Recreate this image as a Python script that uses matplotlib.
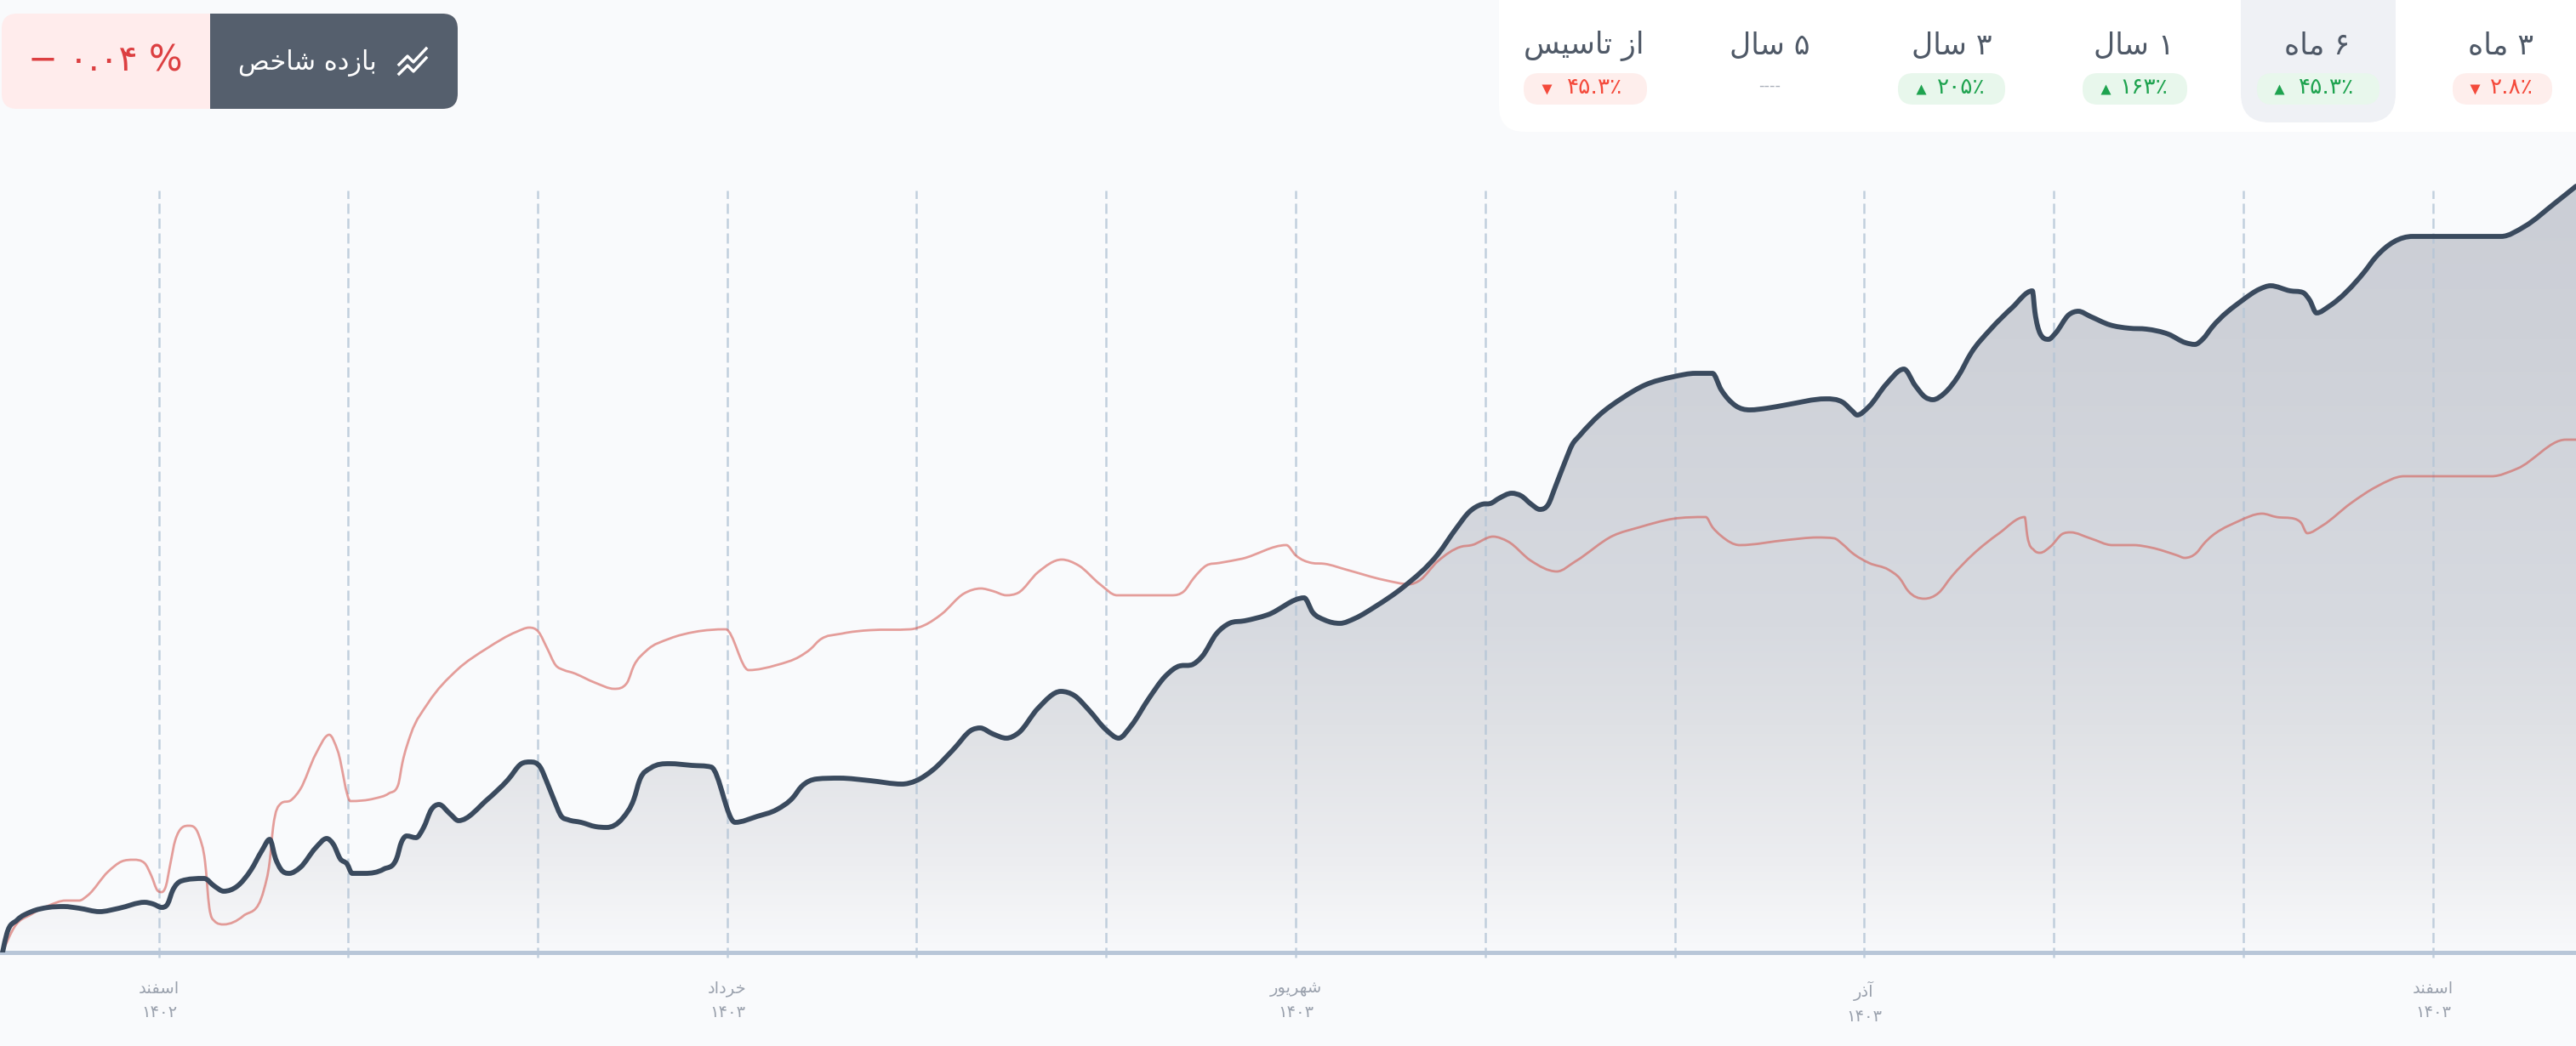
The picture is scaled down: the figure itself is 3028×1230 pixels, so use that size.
import numpy as np
import matplotlib
matplotlib.use('Agg')
import matplotlib.pyplot as plt
from matplotlib.patches import FancyBboxPatch, PathPatch, Rectangle
from matplotlib.path import Path

plt.rcParams['font.family'] = ['DejaVu Sans']

# chart data, x runs along the time axis, values are heights above the baseline
fund_x = [3, 8, 20, 37, 57, 75, 93, 117, 140, 170, 180, 190, 197, 203, 213, 240, 252, 263, 279, 295, 308, 317, 324, 330, 340, 353, 371, 384, 392, 400, 408, 414, 429, 451, 466, 472, 478, 489, 498, 507, 516, 529, 539, 573, 597, 613, 623, 635, 643, 651, 660, 668, 683, 700,
          713, 732, 745, 752, 765, 787, 813, 836, 864, 890, 913, 932, 942, 960, 987, 1023, 1060, 1077, 1097, 1120, 1143, 1152, 1167, 1183, 1197, 1220, 1247, 1263, 1280, 1300, 1315, 1330, 1350, 1370, 1387, 1400, 1413, 1430, 1445, 1463, 1490, 1533, 1543, 1557, 1575, 1593, 1617, 1650,
          1690, 1712, 1727, 1742, 1752, 1762, 1777, 1788, 1800, 1810, 1820, 1828, 1840, 1848, 1857, 1880, 1907, 1933, 1967, 1993, 2013, 2023, 2040, 2057, 2077, 2100, 2146, 2166, 2177, 2183, 2197, 2217, 2238, 2251, 2263, 2272, 2286, 2302, 2317, 2340, 2365, 2389, 2392, 2398, 2408, 2416, 2432, 2443, 2457, 2480, 2503, 2523, 2549, 2569, 2580, 2590, 2600, 2636, 2656, 2669, 2692, 2707, 2715, 2723, 2738, 2779, 2792, 2836, 2940, 2968, 3003, 3028]
fund_y = [0, 22, 38, 48, 53, 54, 52, 48, 52, 59, 57, 53, 57, 73, 84, 87, 78, 72, 78, 97, 120, 133, 110, 98, 93, 100, 123, 134, 127, 110, 104, 93, 93, 98, 110, 130, 137, 135, 147, 168, 174, 163, 155, 180, 203, 222, 224, 218, 200, 180, 160, 156, 153, 148,
          147, 158, 180, 203, 217, 222, 220, 218, 153, 160, 168, 182, 195, 204, 205, 202, 198, 202, 215, 238, 262, 264, 257, 252, 258, 287, 307, 302, 285, 262, 252, 267, 298, 325, 337, 338, 348, 375, 387, 390, 397, 417, 400, 391, 387, 393, 407, 430,
          468, 499, 518, 527, 528, 534, 540, 537, 527, 521, 527, 547, 578, 597, 608, 632, 652, 667, 677, 681, 681, 662, 643, 638, 640, 644, 651, 647, 637, 632, 642, 668, 686, 667, 653, 650, 658, 678, 705, 733, 758, 778, 753, 728, 721, 728, 750, 754, 748, 738, 734, 733, 727, 717, 715, 722, 735, 767, 780, 784, 778, 776, 767, 752, 760, 800, 817, 842, 842, 854, 881, 901]

index_x = [3, 17, 37, 57, 77, 93, 103, 127, 143, 157, 170, 178, 185, 190, 195, 200, 206, 222, 234, 241, 246, 252, 263, 286, 310, 317, 321, 330, 342, 353, 371, 387, 397, 412, 440, 457, 468, 473, 483, 503, 537, 573, 607, 622, 633, 643, 653, 663, 673, 700, 722, 737, 745, 760, 787, 817, 853,
           880, 913, 940, 953, 963, 990, 1023, 1070, 1087, 1107, 1133, 1153, 1167, 1183, 1197, 1220, 1248, 1268, 1293, 1313, 1377, 1392, 1403, 1418, 1433, 1460, 1512, 1523, 1542, 1557, 1583, 1627, 1657, 1668, 1690, 1717, 1730, 1755, 1773, 1799, 1830, 1852, 1896, 1927, 1967, 2005, 2013, 2023, 2045,
           2100, 2136, 2156, 2166, 2177, 2197, 2220, 2233, 2243, 2262, 2279, 2294, 2319, 2350, 2380, 2383, 2391, 2398, 2411, 2424, 2434, 2457, 2483, 2508, 2529, 2559, 2568, 2582, 2590, 2631, 2659, 2676, 2697, 2705, 2712, 2730, 2763, 2794, 2826, 2929, 2959, 3016, 3028]
index_y = [0, 30, 45, 55, 61, 61, 67, 95, 107, 109, 105, 90, 73, 71, 78, 103, 132, 149, 137, 107, 53, 37, 33, 43, 73, 107, 147, 175, 179, 192, 233, 256, 237, 178, 181, 187, 197, 223, 257, 293, 332, 358, 377, 382, 377, 358, 338, 332, 329, 317, 310, 317, 337, 355, 369, 377, 380,
           332, 338, 348, 357, 367, 375, 379, 380, 385, 398, 422, 428, 425, 420, 423, 447, 462, 455, 433, 420, 420, 425, 440, 455, 458, 463, 479, 467, 458, 457, 450, 438, 433, 437, 460, 477, 479, 489, 483, 461, 448, 460, 490, 500, 510, 512, 500, 490, 479,
           485, 488, 487, 480, 470, 458, 450, 440, 425, 416, 423, 442, 468, 493, 512, 490, 473, 470, 478, 492, 494, 487, 479, 479, 476, 467, 464, 470, 480, 507, 516, 512, 510, 505, 493, 502, 528, 548, 560, 560, 569, 603, 603]

month_x = [187, 409, 632, 855, 1077, 1300, 1523, 1746, 1969, 2191, 2414, 2637, 2860]
month_labels = ['اسفند', '', '', 'خرداد', '', '', 'شهریور', '', '', 'آذر', '', '', 'اسفند']
year_labels = ['۱۴۰۲', '', '', '۱۴۰۳', '', '', '۱۴۰۳', '', '', '۱۴۰۳', '', '', '۱۴۰۳']

periods = ['۳ ماه', '۶ ماه', '۱ سال', '۳ سال', '۵ سال', 'از تاسیس']
returns = ['۲.۸٪', '۴۵.۳٪', '۱۶۳٪', '۲۰۵٪', '----', '۴۵.۳٪']
directions = [-1, 1, 1, 1, 0, -1]

BG = '#f9fafc'
DARK = '#3a4a5e'
RED = '#dc3f41'

# matplotlib has no arabic shaping, so pick the joined glyph forms by hand
FORMS = {'ا': 'ﺍﺎ', 'آ': 'ﺁﺂ', 'د': 'ﺩﺪ', 'ذ': 'ﺫﺬ', 'ر': 'ﺭﺮ', 'ز': 'ﺯﺰ', 'و': 'ﻭﻮ',
         'ب': 'ﺏﺐﺑﺒ', 'ت': 'ﺕﺖﺗﺘ', 'خ': 'ﺥﺦﺧﺨ', 'س': 'ﺱﺲﺳﺴ', 'ش': 'ﺵﺶﺷﺸ', 'ص': 'ﺹﺺﺻﺼ',
         'ف': 'ﻑﻒﻓﻔ', 'ل': 'ﻝﻞﻟﻠ', 'م': 'ﻡﻢﻣﻤ', 'ن': 'ﻥﻦﻧﻨ', 'ه': 'ﻩﻪﻫﻬ', 'ی': 'ﯼﯽﯾﯿ'}


def fa(text):
    out = []
    for i, c in enumerate(text):
        if c not in FORMS:
            out.append(c)
            continue
        prev = text[i - 1] if i > 0 else ' '
        nxt = text[i + 1] if i + 1 < len(text) else ' '
        joins_prev = prev in FORMS and len(FORMS[prev]) == 4
        joins_next = nxt in FORMS and len(FORMS[c]) == 4
        idx = {(False, False): 0, (True, False): 1, (False, True): 2, (True, True): 3}[(joins_prev, joins_next)]
        out.append(FORMS[c][idx])
    return ''.join(reversed(out))


def smooth_path(x, y):
    # monotone cubic segments through the read points
    x = np.array(x, float)
    y = np.array(y, float)
    h = np.diff(x)
    s = np.diff(y) / h
    m = np.zeros(len(x))
    for i in range(1, len(x) - 1):
        p = (s[i - 1] * h[i] + s[i] * h[i - 1]) / (h[i - 1] + h[i])
        if s[i - 1] * s[i] > 0:
            m[i] = np.sign(p) * min(3 * abs(s[i - 1]), 3 * abs(s[i]), abs(p))
    m[0] = (3 * s[0] - m[1]) / 2
    m[-1] = (3 * s[-1] - m[-2]) / 2
    verts = [(x[0], y[0])]
    codes = [Path.MOVETO]
    for i in range(len(h)):
        verts += [(x[i] + h[i] / 3, y[i] + m[i] * h[i] / 3),
                  (x[i + 1] - h[i] / 3, y[i + 1] - m[i + 1] * h[i] / 3),
                  (x[i + 1], y[i + 1])]
        codes += [Path.CURVE4] * 3
    return verts, codes


fig = plt.figure(figsize=(30.28, 12.30), dpi=100, facecolor=BG)

# main chart, bottom edge of the axes is the baseline
ax = fig.add_axes([0, 110 / 1230, 1, 1120 / 1230], facecolor=BG)

verts, codes = smooth_path(fund_x, fund_y)
area = Path(verts + [(fund_x[-1], 0), (fund_x[0], 0), (fund_x[0], 0)],
            codes + [Path.LINETO, Path.LINETO, Path.CLOSEPOLY])
clip = PathPatch(area, transform=ax.transData, facecolor='none', edgecolor='none')
ax.add_patch(clip)
shade = np.linspace(0, 1, 256).reshape(-1, 1)
cmap = matplotlib.colors.LinearSegmentedColormap.from_list(
    'fill', [(0, '#f8f9fb'), (0.123, '#ecedf0'), (0.297, '#dfe1e5'), (0.426, '#d7dae0'), (0.8, '#ced1d8'), (1, '#cbced6')])
img = ax.imshow(shade, extent=(0, 3028, 0, 900), origin='lower', aspect='auto', cmap=cmap, zorder=1)
img.set_clip_path(clip)

ax.vlines(month_x, -6, 896, color='#b4c5d6', lw=1.8, linestyles=(0, (4.8, 2.2)), zorder=2, clip_on=False, alpha=0.8)

ax.add_patch(PathPatch(Path(*smooth_path(index_x, index_y)), facecolor='none', edgecolor='#d4524a',
                       lw=2.0, alpha=0.55, zorder=3, capstyle='round', joinstyle='round'))
ax.add_patch(PathPatch(Path(verts, codes), facecolor='none', edgecolor=DARK,
                       lw=4.2, zorder=4, capstyle='round', joinstyle='round'))

ax.set_xlim(0, 3028)
ax.set_ylim(0, 1120)
for side in ['top', 'left', 'right']:
    ax.spines[side].set_visible(False)
ax.spines['bottom'].set_color('#b8c6d8')
ax.spines['bottom'].set_linewidth(3.6)
ax.spines['bottom'].set_zorder(3)
ax.set_yticks([])
ax.set_xticks(month_x)
ax.set_xticklabels([fa(m) + '\n' + y for m, y in zip(month_labels, year_labels)],
                   fontsize=14, color='#9aa1ad', linespacing=1.6)
ax.tick_params(axis='x', length=0, pad=24)

# header widgets drawn in pixel coordinates
ui = fig.add_axes([0, 0, 1, 1], facecolor='none')
ui.set_xlim(0, 3028)
ui.set_ylim(1230, 0)
ui.axis('off')


def box(x0, y0, x1, y1, color, r):
    ui.add_patch(FancyBboxPatch((x0, y0), x1 - x0, y1 - y0, boxstyle=f'round,pad=0,rounding_size={r}',
                                facecolor=color, edgecolor='none'))


# period panel
box(1762, -60, 3100, 155, 'white', 30)
box(2634, -40, 2816, 144, '#eff1f5', 34)

label_x = [2940, 2724, 2508, 2294, 2080, 1862]
pill_l = [2883, 2653, 2448, 2231, None, 1791]
pill_r = [3000, 2797, 2571, 2357, None, 1936]
tri_x = [2909, 2679, 2475, 2258, None, 1818]
num_x = [2952, 2735, 2520, 2305, 2080, 1875]

for i in range(len(periods)):
    ui.text(label_x[i], 54, fa(periods[i]), ha='center', va='center', fontsize=25, color='#4f5967')
    d = directions[i]
    if d == 0:
        ui.text(num_x[i], 101, returns[i], ha='center', va='center', fontsize=13, color='#a9afb9')
        continue
    fg = '#1ea34f' if d > 0 else '#f44a3b'
    box(pill_l[i], 86, pill_r[i], 123, '#e8f7ec' if d > 0 else '#feeeec', 18)
    ui.plot(tri_x[i], 105, marker='^' if d > 0 else 'v', ms=9, color=fg, mec='none')
    ui.text(num_x[i], 103, returns[i], ha='center', va='center', fontsize=19, color=fg)

# index return badge
box(2, 16, 538, 128, '#ffecec', 18)
box(400, 16, 538, 128, '#555f6d', 18)
ui.add_patch(Rectangle((247, 16), 170, 112, facecolor='#555f6d', edgecolor='none'))
ui.text(361, 74, fa('بازده شاخص'), ha='center', va='center', fontsize=22, color='white')
ui.text(124, 72, '− ۰.۰۴ %', ha='center', va='center', fontsize=30, color=RED)
icon_x = [469, 479, 486, 501]
ui.plot(icon_x, [76, 66, 73, 57], color='white', lw=2.4)
ui.plot(icon_x, [87, 77, 84, 68], color='white', lw=2.4)

fig.savefig('out.png', dpi=100, facecolor=BG)
